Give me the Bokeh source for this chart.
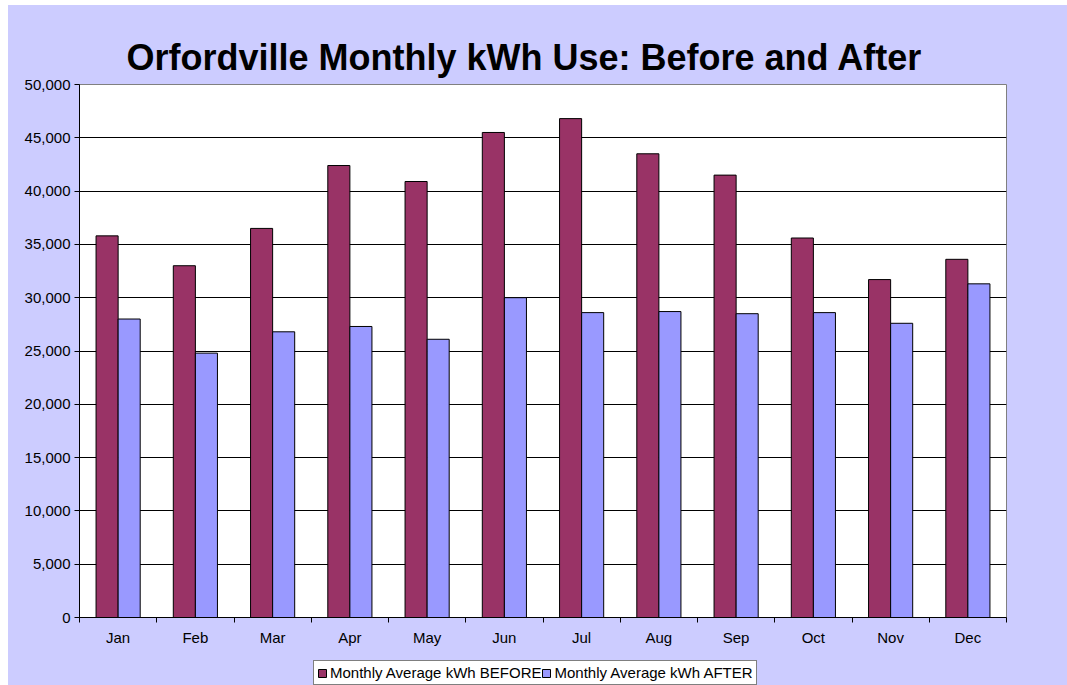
import numpy as np
from bokeh.plotting import figure
from bokeh.layouts import column, row
from bokeh.models import Range1d, FixedTicker, NumeralTickFormatter, Legend, Title, Spacer
from bokeh.embed import file_html
from bokeh.resources import INLINE

# ---- data ----
months = ["Jan", "Feb", "Mar", "Apr", "May", "Jun", "Jul", "Aug", "Sep", "Oct", "Nov", "Dec"]
kwh_before = [35800, 33000, 36500, 42400, 40900, 45500, 46800, 43500, 41500, 35600, 31700, 33600]
kwh_after = [28000, 24800, 26800, 27300, 26100, 30000, 28600, 28700, 28500, 28600, 27600, 31300]
y_ticks = [0, 5000, 10000, 15000, 20000, 25000, 30000, 35000, 40000, 45000, 50000]
series_names = ["Monthly Average kWh BEFORE", "Monthly Average kWh AFTER"]
series_colors = ["#993366", "#9999FF"]
title_text = "Orfordville Monthly kWh Use: Before and After"

FONT = "Liberation Sans"
BG = "#CCCCFF"

p = figure(width=1059, height=652,
           x_range=Range1d(0, len(months)), y_range=Range1d(y_ticks[0], y_ticks[-1]),
           output_backend="svg", toolbar_location=None,
           min_border_left=71, min_border_right=61, min_border_top=79, min_border_bottom=40,
           background_fill_color="white", border_fill_color=BG,
           outline_line_color="#808080", outline_line_width=1)

p.title = Title(text=title_text, align="left", offset=47, standoff=13,
                text_font=FONT, text_font_size="36px", text_font_style="bold",
                text_color="black")

centers = np.arange(len(months)) + 0.5
bw = 1 / 3.5
series_values = [kwh_before, kwh_after]
offsets = [-bw / 2, bw / 2]
for vals, col, off in zip(series_values, series_colors, offsets):
    p.vbar(x=centers + off, top=vals, width=bw,
           fill_color=col, line_color="black", line_width=1)

# x axis: labels at group centres, tick marks at group boundaries
xa = p.xaxis[0]
xa.ticker = FixedTicker(ticks=list(centers), minor_ticks=list(range(len(months) + 1)))
xa.major_label_overrides = {float(c): m for c, m in zip(centers, months)}
xa.major_tick_out = 0
xa.major_tick_in = 0
xa.minor_tick_out = 5
xa.minor_tick_in = 0
xa.minor_tick_line_color = "black"
xa.axis_line_color = "black"
xa.major_label_standoff = 6
xa.major_label_text_font = FONT
xa.major_label_text_font_size = "15px"
xa.major_label_text_color = "black"
p.xgrid.visible = False

ya = p.yaxis[0]
ya.ticker = FixedTicker(ticks=y_ticks)
ya.formatter = NumeralTickFormatter(format="0,0")
ya.major_tick_out = 5
ya.major_tick_in = 0
ya.major_tick_line_color = "black"
ya.minor_tick_line_color = None
ya.axis_line_color = "black"
ya.major_label_standoff = 4
ya.major_label_text_font = FONT
ya.major_label_text_font_size = "15px"
ya.major_label_text_color = "black"
p.ygrid.ticker = FixedTicker(ticks=y_ticks[1:-1])
p.ygrid.grid_line_color = "black"
p.ygrid.grid_line_width = 1

# legend strip underneath the chart (hidden copies of the series supply the swatches)
lf = figure(width=1059, height=28, x_range=Range1d(0, 1), y_range=Range1d(0, 1),
            output_backend="svg", toolbar_location=None,
            x_axis_location=None, y_axis_location=None,
            min_border_left=0, min_border_right=0, min_border_top=0, min_border_bottom=0,
            background_fill_color=BG, border_fill_color=BG, outline_line_color=None)
lf.xgrid.visible = False
lf.ygrid.visible = False
items = []
for name, vals, col, off in zip(series_names, series_values, series_colors, offsets):
    r = lf.vbar(x=centers + off, top=vals, width=bw, fill_color=col,
                line_color="black", line_width=1, visible=False)
    items.append((name, [r]))
legend = Legend(items=items, orientation="horizontal", location=(234, 0), margin=0,
                padding=3, spacing=0, glyph_width=10, glyph_height=10,
                label_standoff=3, label_height=16,
                label_text_font=FONT, label_text_font_size="15px", label_text_color="black",
                border_line_color="black", border_line_width=1,
                background_fill_color="white", background_fill_alpha=1.0,
                inactive_fill_alpha=0.0)
lf.add_layout(legend, "center")

inner = column(p, lf, spacing=0, styles={"background-color": BG})
layout = column(Spacer(height=5), row(Spacer(width=8), inner))
open("out.html", "w").write(file_html(layout, INLINE))
